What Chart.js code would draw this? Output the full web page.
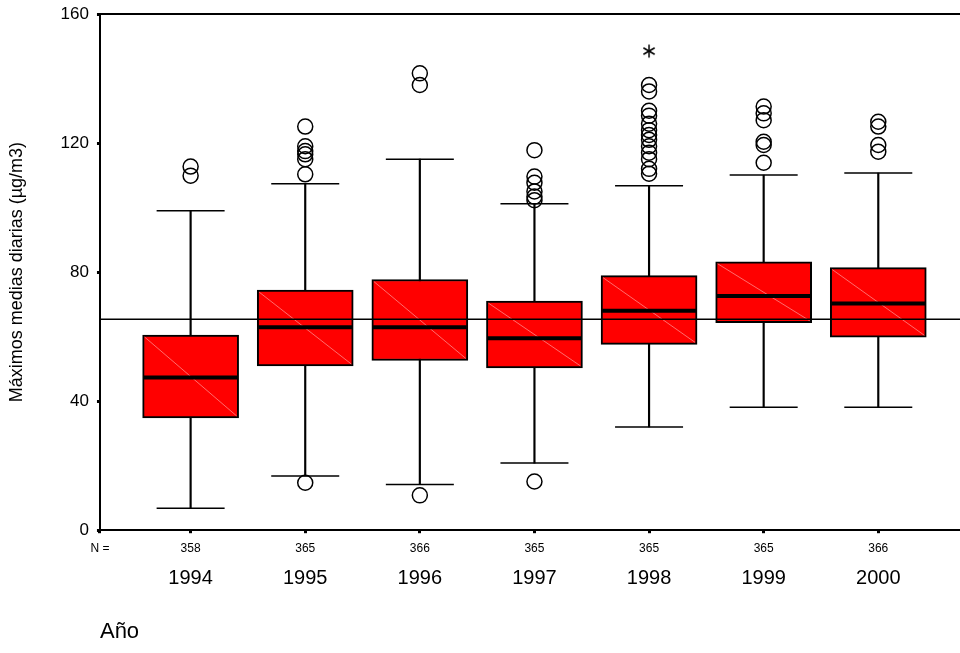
<!DOCTYPE html>
<html>
<head>
<meta charset="utf-8">
<script src="https://cdn.jsdelivr.net/npm/chart.js@4.4.1/dist/chart.umd.min.js"></script>
<style>
  body { margin: 0; background: #fff; }
  #wrap { width: 960px; height: 653px; }
</style>
</head>
<body>
<div id="wrap"><canvas id="boxplot"></canvas></div>
<script>
// Boxplot of daily maxima per year

const years = ["1994", "1995", "1996", "1997", "1998", "1999", "2000"];
const counts = [358, 365, 366, 365, 365, 365, 366];
const whiskerLow = [6.8, 16.8, 14.2, 20.8, 32.0, 38.1, 38.1];
const q1 = [34.8, 50.9, 52.6, 50.3, 57.6, 64.3, 59.8];
const medians = [47.3, 62.9, 62.9, 59.5, 68.0, 72.6, 70.3];
const q3 = [60.5, 74.4, 77.7, 71.0, 78.9, 83.2, 81.4];
const whiskerHigh = [99.0, 107.4, 115.0, 101.2, 106.8, 110.1, 110.7];
const outliers = [
  [109.9, 112.7],
  [14.7, 110.3, 115.0, 116.5, 117.5, 119.0, 125.1],
  [10.8, 138.0, 141.6],
  [15.1, 102.3, 103.4, 105.0, 107.7, 109.6, 117.8],
  [110.5, 112.0, 115.0, 117.0, 119.0, 121.0, 122.5, 124.0, 126.0, 128.5, 130.0, 136.0, 138.0],
  [113.9, 119.4, 120.4, 127.1, 129.2, 131.3],
  [117.3, 119.4, 125.1, 126.6]
];
const extremes = [[], [], [], [], [148.5], [], []];
const referenceValue = 65.4;
const yTicks = [0, 40, 80, 120, 160];

const X_MIN = -0.791;
const X_MAX = 6.713;
const narrow = "'Liberation Sans Narrow', 'Arial Narrow', 'Liberation Sans', Arial, sans-serif";
const regular = "'Liberation Sans', Arial, sans-serif";

// asterisk marker for extreme values
function makeAsterisk() {
  const c = document.createElement("canvas");
  c.width = 16; c.height = 16;
  const g = c.getContext("2d");
  g.strokeStyle = "#000";
  g.lineWidth = 1.5;
  const r = 6.5;
  [90, 30, 150].forEach(deg => {
    const a = deg * Math.PI / 180;
    g.beginPath();
    g.moveTo(8 - Math.cos(a) * r, 8 - Math.sin(a) * r);
    g.lineTo(8 + Math.cos(a) * r, 8 + Math.sin(a) * r);
    g.stroke();
  });
  return c;
}

const idx = years.map((_, i) => i);
const pointsOf = lists => lists.flatMap((vals, i) => vals.map(v => ({ x: i, y: v })));

// top frame line and faint diagonal in each box
const framePlugin = {
  id: "frame",
  afterDatasetDraw(chart, args) {
    if (args.index !== 1) return;
    const ctx = chart.ctx;
    ctx.save();
    ctx.strokeStyle = "rgba(255,150,150,0.9)";
    ctx.lineWidth = 0.8;
    args.meta.data.forEach(bar => {
      const left = bar.x - bar.width / 2 + 2, right = bar.x + bar.width / 2 - 2;
      ctx.beginPath();
      ctx.moveTo(left, Math.min(bar.y, bar.base) + 2);
      ctx.lineTo(right, Math.max(bar.y, bar.base) - 2);
      ctx.stroke();
    });
    ctx.restore();
  },
  afterDraw(chart) {
    const { ctx, chartArea } = chart;
    ctx.save();
    ctx.strokeStyle = "#000";
    ctx.lineWidth = 2;
    ctx.beginPath();
    ctx.moveTo(chartArea.left, chartArea.top);
    ctx.lineTo(chartArea.right, chartArea.top);
    ctx.stroke();
    ctx.restore();
  }
};

new Chart(document.getElementById("boxplot"), {
  type: "bar",
  data: {
    datasets: [
      {
        // whisker stems
        data: idx.map(i => ({ x: i, y: [whiskerLow[i], whiskerHigh[i]] })),
        backgroundColor: "#000",
        borderWidth: 0,
        barThickness: 1.5,
        grouped: false,
        order: 10
      },
      {
        // boxes
        data: idx.map(i => ({ x: i, y: [q1[i], q3[i]] })),
        backgroundColor: "#ff0000",
        borderColor: "#000",
        borderWidth: 2,
        borderSkipped: false,
        barThickness: 96,
        grouped: false,
        order: 9
      },
      {
        // whisker caps
        type: "scatter",
        data: idx.flatMap(i => [{ x: i, y: whiskerLow[i] }, { x: i, y: whiskerHigh[i] }]),
        pointStyle: "line",
        pointRadius: 34,
        borderColor: "#000",
        borderWidth: 1.5,
        order: 8
      },
      {
        // medians
        type: "scatter",
        data: idx.map(i => ({ x: i, y: medians[i] })),
        pointStyle: "line",
        pointRadius: 47,
        borderColor: "#000",
        borderWidth: 4,
        order: 7
      },
      {
        // outliers
        type: "scatter",
        data: pointsOf(outliers),
        pointStyle: "circle",
        pointRadius: 7.5,
        backgroundColor: "rgba(0,0,0,0)",
        borderColor: "#000",
        borderWidth: 1.5,
        order: 6
      },
      {
        // extremes
        type: "scatter",
        data: pointsOf(extremes),
        pointStyle: makeAsterisk(),
        order: 5
      },
      {
        // reference line
        type: "line",
        data: [{ x: X_MIN, y: referenceValue }, { x: X_MAX, y: referenceValue }],
        borderColor: "#000",
        borderWidth: 1.5,
        pointRadius: 0,
        order: 1
      }
    ]
  },
  options: {
    responsive: true,
    maintainAspectRatio: false,
    animation: false,
    layout: { autoPadding: false, padding: { top: 14, right: 0, bottom: 8, left: 0 } },
    plugins: { legend: { display: false }, tooltip: { enabled: false } },
    scales: {
      x: {
        type: "linear",
        min: X_MIN,
        max: X_MAX,
        offset: false,
        afterBuildTicks: s => { s.ticks = [{ value: X_MIN }].concat(idx.map(i => ({ value: i }))); },
        ticks: {
          autoSkip: false,
          maxRotation: 0,
          padding: 8,
          color: "#000",
          font: { family: narrow, size: 12 },
          callback: v => (v === X_MIN ? "N =" : counts[v])
        },
        grid: { offset: false, drawOnChartArea: false, drawTicks: true, tickLength: 3, tickWidth: 3, color: "#000" },
        border: { display: true, color: "#000", width: 2 }
      },
      x2: {
        type: "linear",
        position: "bottom",
        weight: 1,
        min: X_MIN,
        max: X_MAX,
        offset: false,
        afterBuildTicks: s => { s.ticks = idx.map(i => ({ value: i })); },
        ticks: {
          autoSkip: false,
          maxRotation: 0,
          padding: -5,
          color: "#000",
          font: { family: narrow, size: 20 },
          callback: v => years[v]
        },
        grid: { display: false },
        border: { display: false },
        title: {
          display: true,
          text: "Año",
          align: "start",
          color: "#000",
          font: { family: narrow, size: 22 },
          padding: { top: 33, bottom: 0 }
        }
      },
      y: {
        min: 0,
        max: 160,
        afterBuildTicks: s => { s.ticks = yTicks.map(v => ({ value: v })); },
        ticks: { padding: 8, color: "#000", font: { family: regular, size: 17, lineHeight: 0.6 } },
        grid: { offset: false, drawOnChartArea: false, drawTicks: true, tickLength: 3, tickWidth: 3, color: "#000" },
        border: { display: true, color: "#000", width: 2 },
        title: {
          display: true,
          text: "Máximos medias diarias (µg/m3)",
          color: "#000",
          font: { family: regular, size: 18 },
          padding: { top: 6, bottom: 25 }
        }
      }
    }
  },
  plugins: [framePlugin]
});
</script>
</body>
</html>
